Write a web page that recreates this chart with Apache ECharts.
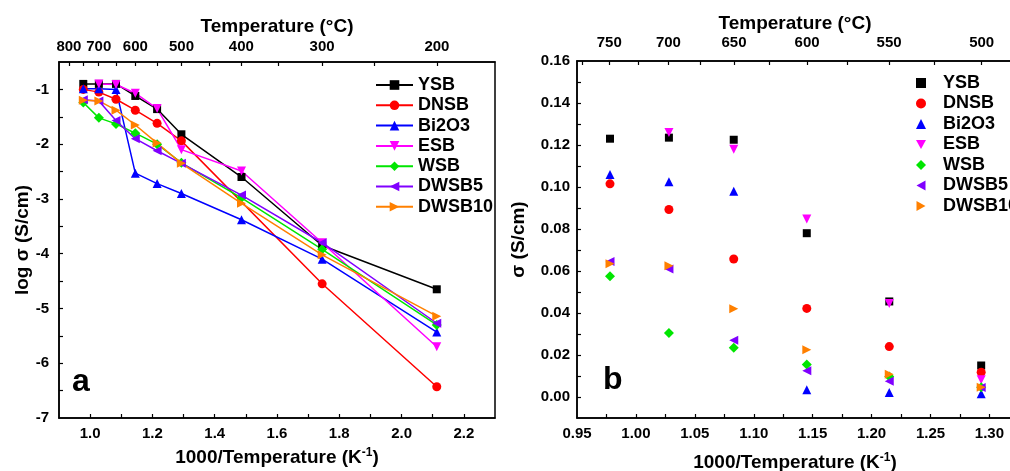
<!DOCTYPE html>
<html>
<head>
<meta charset="utf-8">
<script src="https://cdn.jsdelivr.net/npm/echarts@6.0.0/dist/echarts.min.js"></script>
<style>
html, body { margin: 0; padding: 0; background: #fff; overflow: hidden; }
#wrap { position: relative; width: 1010px; height: 471px; overflow: hidden; }
#chartA { position: absolute; left: 0; top: 0; width: 505px; height: 471px; }
#chartB { position: absolute; left: 505px; top: 0; width: 505px; height: 471px; }
</style>
</head>
<body>
<div id="wrap"><div id="chartA"></div><div id="chartB"></div></div>
<script>
// names, colours, markers
var names = ["YSB", "DNSB", "Bi2O3", "ESB", "WSB", "DWSB5", "DWSB10"];
var colors = ["#000000", "#ff0000", "#0000ff", "#ff00ff", "#00e600", "#8000ff", "#ff8000"];

// panel a : log sigma vs 1000/T (temperatures 750..200 C)
var invTA = [0.978, 1.028, 1.083, 1.145, 1.215, 1.293, 1.486, 1.745, 2.113];
var logYSB = [-0.90, -0.90, -0.90, -1.12, -1.36, -1.82, -2.60, -3.85, -4.65];
var logDNSB = [-1.00, -1.05, -1.18, -1.38, -1.62, -1.94, null, -4.55, -6.43];
var logBi2O3 = [-0.99, -0.99, -1.00, -2.53, -2.72, -2.90, -3.38, -4.10, -5.43];
var logESB = [null, -0.90, -0.91, -1.07, -1.35, -2.10, -2.49, -3.80, -5.70];
var logWSB = [-1.24, -1.52, -1.63, -1.80, -2.00, -2.34, -2.98, -3.92, -5.30];
var logDWSB5 = [-1.19, -1.21, -1.57, -1.90, -2.12, -2.35, -2.93, -3.80, -5.27];
var logDWSB10 = [-1.20, -1.21, -1.38, -1.65, -1.98, -2.35, -3.08, -4.02, -5.14];

// panel b : sigma vs 1000/T (750..500 C)
var invTB = [0.978, 1.028, 1.083, 1.145, 1.215, 1.293];
var sigYSB = [0.123, 0.1235, 0.1225, 0.078, 0.0455, 0.015];
var sigDNSB = [0.1015, 0.0893, 0.0657, 0.0422, 0.024, 0.0118];
var sigBi2O3 = [0.106, 0.1025, 0.098, 0.0035, 0.0022, 0.0015];
var sigESB = [null, 0.126, 0.118, 0.0848, 0.0445, 0.0082];
var sigWSB = [0.0575, 0.0305, 0.0235, 0.0155, 0.0098, 0.0047];
var sigDWSB5 = [0.0645, 0.061, 0.027, 0.0125, 0.0075, 0.0045];
var sigDWSB10 = [0.0635, 0.0625, 0.042, 0.0225, 0.0108, 0.0047];

// tick labels
var xLabelsA = [1.0, 1.2, 1.4, 1.6, 1.8, 2.0, 2.2];
var xTicksA = [1.0, 1.1, 1.2, 1.3, 1.4, 1.5, 1.6, 1.7, 1.8, 1.9, 2.0, 2.1, 2.2];
var yLabelsA = [-7, -6, -5, -4, -3, -2, -1];
var yTicksA = [-6.5, -6, -5.5, -5, -4.5, -4, -3.5, -3, -2.5, -2, -1.5, -1];
var tempLabelsA = [800, 700, 600, 500, 400, 300, 200];
var tempTicksA = [800, 750, 700, 650, 600, 550, 500, 450, 400, 350, 300, 250, 200];

var xLabelsB = [0.95, 1.00, 1.05, 1.10, 1.15, 1.20, 1.25, 1.30];
var xTicksB = [0.975, 1.00, 1.025, 1.05, 1.075, 1.10, 1.125, 1.15, 1.175, 1.20, 1.225, 1.25, 1.275, 1.30];
var yLabelsB = [0, 0.02, 0.04, 0.06, 0.08, 0.10, 0.12, 0.14, 0.16];
var yTicksB = [0, 0.01, 0.02, 0.03, 0.04, 0.05, 0.06, 0.07, 0.08, 0.09, 0.10, 0.11, 0.12, 0.13, 0.14, 0.15];
var tempLabelsB = [750, 700, 650, 600, 550, 500];
var tempTicksB = [775, 750, 725, 700, 675, 650, 625, 600, 575, 550, 525, 500];

var logData = [logYSB, logDNSB, logBi2O3, logESB, logWSB, logDWSB5, logDWSB10];
var sigData = [sigYSB, sigDNSB, sigBi2O3, sigESB, sigWSB, sigDWSB5, sigDWSB10];

var symbols = [
    "rect",
    "circle",
    "triangle",
    "path://M0,0L10,0L5,9Z",
    "diamond",
    "path://M9,0L9,10L0,5Z",
    "path://M0,0L9,5L0,10Z"
];
var symbolSizes = [8, 9, 9, 9, 10, 9, 9];

var FONT = "'Liberation Sans', Arial, sans-serif";

function tempToX(t) {
    return 1000 / (t + 273.15);
}

function txt(size) {
    return { color: "#000", fontFamily: FONT, fontWeight: "bold", fontSize: size };
}

function pairs(xs, ys) {
    var out = [];
    for (var i = 0; i < xs.length; i++) {
        if (ys[i] !== null) out.push([xs[i], ys[i]]);
    }
    return out;
}

function makeAxis(opts) {
    return {
        type: "value",
        position: opts.position,
        min: opts.min,
        max: opts.max,
        name: opts.name,
        nameLocation: "middle",
        nameGap: opts.nameGap,
        nameMoveOverlap: false,
        nameTextStyle: Object.assign(txt(19), {
            rich: { sup: { fontFamily: FONT, fontWeight: "bold", fontSize: 12, padding: [0, 0, 10, 0] } }
        }),
        axisLine: { show: true, onZero: false, lineStyle: { color: "#000", width: 1.5 } },
        axisTick: {
            show: true, inside: true, length: 4,
            customValues: opts.ticks,
            lineStyle: { color: "#000", width: 1.2 }
        },
        axisLabel: Object.assign(txt(15), {
            customValues: opts.labels,
            margin: opts.margin,
            formatter: opts.formatter
        }),
        splitLine: { show: false }
    };
}

// ---------- panel a ----------
var chartA = echarts.init(document.getElementById("chartA"));
var seriesA = names.map(function (n, i) {
    return {
        name: n,
        type: "line",
        data: pairs(invTA, logData[i]),
        connectNulls: true,
        symbol: symbols[i],
        symbolSize: symbolSizes[i],
        lineStyle: { color: colors[i], width: 1.5 },
        itemStyle: { color: colors[i] }
    };
});

chartA.setOption({
    animation: false,
    grid: {
        left: 59, top: 62, right: 10, bottom: 53,
        outerBoundsMode: "none", containLabel: false,
        show: true, borderColor: "#000", borderWidth: 1.5
    },
    xAxis: [
        makeAxis({
            position: "bottom", min: 0.9, max: 2.3,
            name: "1000/Temperature (K{sup|-1})", nameGap: 29,
            ticks: xTicksA, labels: xLabelsA, margin: 8,
            formatter: function (v) { return v.toFixed(1); }
        }),
        makeAxis({
            position: "top", min: 0.9, max: 2.3,
            name: "Temperature (\u00b0C)", nameGap: 26,
            ticks: tempTicksA.map(tempToX), labels: tempLabelsA.map(tempToX), margin: 8,
            formatter: function (v) { return String(Math.round(1000 / v - 273.15)); }
        })
    ],
    yAxis: makeAxis({
        position: "left", min: -7, max: -0.5,
        name: "log \u03c3 (S/cm)", nameGap: 27,
        ticks: yTicksA, labels: yLabelsA, margin: 10,
        formatter: function (v) { return String(Math.round(v)); }
    }),
    legend: {
        orient: "vertical",
        left: 370, top: 71,
        itemWidth: 37, itemHeight: 12, itemGap: 2.3,
        textStyle: Object.assign(txt(18), { lineHeight: 18 }),
        data: names
    },
    graphic: [{
        type: "text", left: 72, top: 366,
        style: { text: "a", fontFamily: FONT, fontWeight: "bold", fontSize: 32, fill: "#000" }
    }],
    series: seriesA
});

// ---------- panel b ----------
var chartB = echarts.init(document.getElementById("chartB"));
var seriesB = names.map(function (n, i) {
    return {
        name: n,
        type: "scatter",
        data: pairs(invTB, sigData[i]),
        symbol: symbols[i],
        symbolSize: symbolSizes[i],
        itemStyle: { color: colors[i], opacity: 1 }
    };
});

chartB.setOption({
    animation: false,
    grid: {
        left: 72, top: 61, right: -3, bottom: 53,
        outerBoundsMode: "none", containLabel: false,
        show: true, borderColor: "#000", borderWidth: 1.5
    },
    xAxis: [
        makeAxis({
            position: "bottom", min: 0.95, max: 1.32,
            name: "1000/Temperature (K{sup|-1})", nameGap: 34,
            ticks: xTicksB, labels: xLabelsB, margin: 8,
            formatter: function (v) { return v.toFixed(2); }
        }),
        makeAxis({
            position: "top", min: 0.95, max: 1.32,
            name: "Temperature (\u00b0C)", nameGap: 28,
            ticks: tempTicksB.map(tempToX), labels: tempLabelsB.map(tempToX), margin: 11,
            formatter: function (v) { return String(Math.round(1000 / v - 273.15)); }
        })
    ],
    yAxis: makeAxis({
        position: "left", min: -0.01, max: 0.16,
        name: "\u03c3 (S/cm)", nameGap: 49,
        ticks: yTicksB, labels: yLabelsB, margin: 7,
        formatter: function (v) { return v.toFixed(2); }
    }),
    legend: {
        orient: "vertical",
        left: 406, top: 69,
        itemWidth: 10, itemHeight: 10, itemGap: 2.5,
        textStyle: Object.assign(txt(18), { lineHeight: 18, padding: [0, 0, 0, 12] }),
        data: names
    },
    graphic: [{
        type: "text", left: 98, top: 364,
        style: { text: "b", fontFamily: FONT, fontWeight: "bold", fontSize: 32, fill: "#000" }
    }],
    series: seriesB
});
</script>
</body>
</html>
